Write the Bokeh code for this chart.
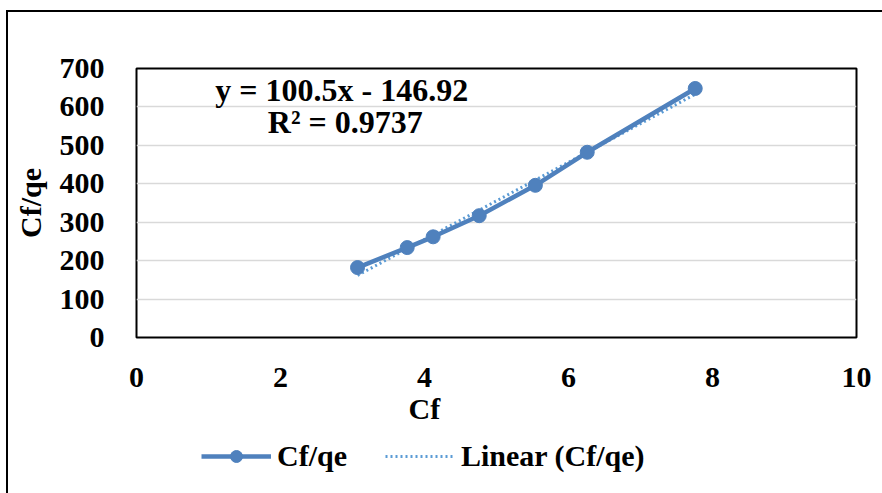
from bokeh.plotting import figure
from bokeh.layouts import column
from bokeh.models import Legend, LegendItem, Range1d, FixedTicker, Label, Title
from bokeh.embed import file_html
from bokeh.resources import INLINE

cf = [3.07, 3.76, 4.12, 4.76, 5.54, 6.26, 7.76]
cf_qe = [182, 234, 262, 317, 396, 482, 648]
slope = 100.5
intercept = -146.92
r2 = 0.9737
x_ticks = [0, 2, 4, 6, 8, 10]
y_ticks = [0, 100, 200, 300, 400, 500, 600, 700]
series_name = "Cf/qe"
trend_name = "Linear (Cf/qe)"

FONT = "Liberation Serif"
BLUE = "#4F81BD"
TREND = "#5B9BD5"

p = figure(frame_width=720, frame_height=269, output_backend="svg", toolbar_location=None,
           x_range=Range1d(0, 10), y_range=Range1d(0, 700),
           min_border_left=128, min_border_right=26, min_border_top=56, min_border_bottom=100)

p.outline_line_color = "black"
p.outline_line_width = 2
p.xgrid.grid_line_color = None
p.ygrid.grid_line_color = "#D9D9D9"
p.ygrid.grid_line_width = 1.5

p.xaxis.ticker = FixedTicker(ticks=x_ticks)
p.yaxis.ticker = FixedTicker(ticks=y_ticks)
for ax in (p.xaxis[0], p.yaxis[0]):
    ax.axis_line_color = None
    ax.major_tick_line_color = None
    ax.minor_tick_line_color = None
    ax.major_label_text_font = FONT
    ax.major_label_text_font_style = "bold"
    ax.major_label_text_font_size = "30px"
    ax.major_label_text_color = "black"
    ax.axis_label_text_font = FONT
    ax.axis_label_text_font_style = "bold"
    ax.axis_label_text_font_size = "30px"
    ax.axis_label_text_color = "black"
p.yaxis.axis_label = "Cf/qe"
p.yaxis.major_label_standoff = 26
p.xaxis.major_label_standoff = 24
p.yaxis.axis_label_standoff = 10

x_fit = [min(cf), max(cf)]
y_fit = [slope * x + intercept for x in x_fit]
p.line(x_fit, y_fit, line_color=TREND, line_width=3, line_dash="2 3")
p.line(cf, cf_qe, line_color=BLUE, line_width=4.5)
p.scatter(cf, cf_qe, size=14, fill_color=BLUE, line_color=BLUE)

eq = Label(x=2.85, y=643, text=f"y = {slope}x - {abs(intercept)}", text_align="center",
           text_baseline="middle", text_font=FONT, text_font_style="bold",
           text_font_size="32px", text_color="black")
rl = Label(x=2.9, y=560, text=f"R² = {r2}", text_align="center",
           text_baseline="middle", text_font=FONT, text_font_style="bold",
           text_font_size="32px", text_color="black")
p.add_layout(eq)
p.add_layout(rl)

xt = Title(text="Cf", align="left", offset=272, text_font=FONT, text_font_style="bold",
           text_font_size="30px", text_color="black", standoff=0)
p.add_layout(xt, "below")

# legend strip below the chart (its renderers hold the same data, kept out of view)
lf = figure(frame_width=874, frame_height=56, output_backend="svg", toolbar_location=None,
            x_range=Range1d(0, 1), y_range=Range1d(0, 1),
            x_axis_type=None, y_axis_type=None,
            min_border_left=0, min_border_right=0, min_border_top=0, min_border_bottom=0)
lf.outline_line_color = None
lf.xgrid.grid_line_color = None
lf.ygrid.grid_line_color = None
l_ln = lf.line(cf, cf_qe, line_color=BLUE, line_width=4.5)
l_pt = lf.scatter(cf, cf_qe, size=14, fill_color=BLUE, line_color=BLUE)
l_tr = lf.line(x_fit, y_fit, line_color=TREND, line_width=3, line_dash="2 3")

legend = Legend(items=[LegendItem(label=series_name, renderers=[l_ln, l_pt]),
                       LegendItem(label=trend_name, renderers=[l_tr])],
                orientation="horizontal", location=(193, 20),
                label_text_font=FONT, label_text_font_style="bold",
                label_text_font_size="30px", label_text_color="black",
                glyph_width=70, glyph_height=30, label_standoff=6, spacing=38,
                border_line_color=None, background_fill_alpha=0, padding=2, margin=0)
lf.add_layout(legend, "center")

layout = column(p, lf, spacing=0)
layout.margin = (10, 0, 0, 6)
layout.styles = {"border-left": "2px solid #000", "border-top": "2px solid #000"}

open("out.html", "w").write(file_html(layout, INLINE))
